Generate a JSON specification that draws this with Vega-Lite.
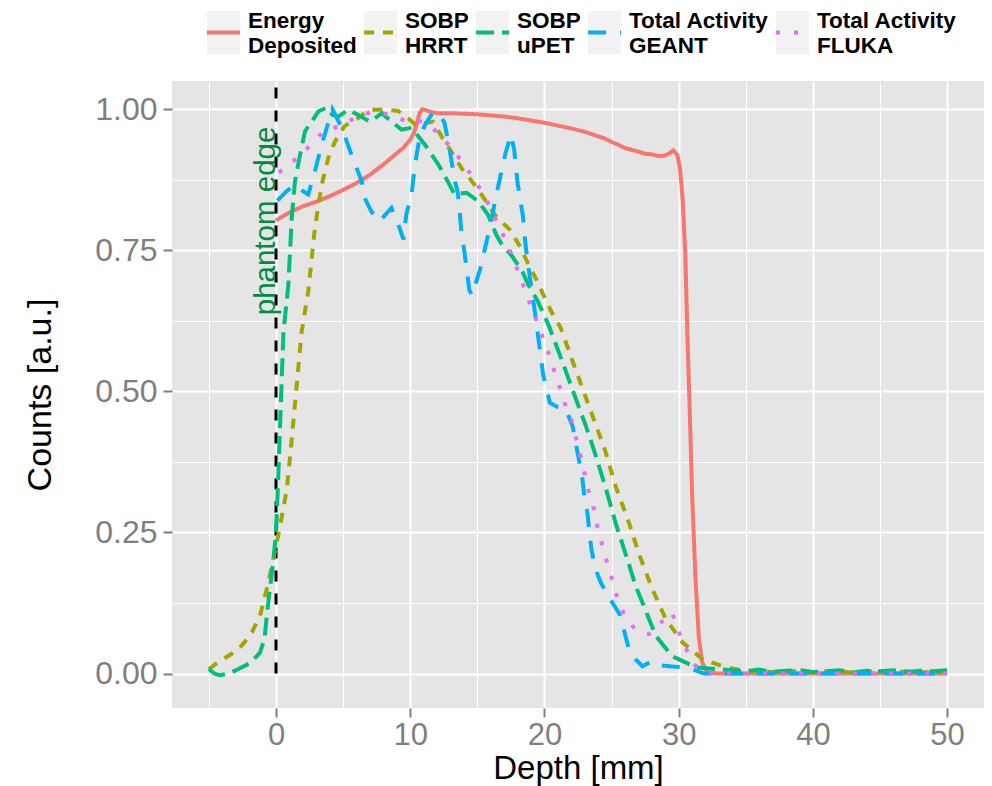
{
  "$schema": "https://vega.github.io/schema/vega-lite/v6.json",
  "width": 812,
  "height": 627,
  "autosize": {"type": "none"},
  "padding": {"left": 172, "top": 81, "right": 8, "bottom": 78},
  "background": "white",
  "view": {"fill": "#E5E5E5", "stroke": null},
  "config": {
    "view": {"fill": "#E5E5E5", "stroke": null},
    "font": "Liberation Sans",
    "axis": {"domain": false, "grid": true, "gridColor": "white", "labelFont": "Liberation Sans", "titleFont": "Liberation Sans", "labelOverlap": false, "labelFlush": false}
  },
  "datasets": {
    "curves": [
      {"s": "Energy Deposited", "x": 0, "y": 0.803}, {"s": "Energy Deposited", "x": 1, "y": 0.817}, {"s": "Energy Deposited", "x": 2, "y": 0.828}, {"s": "Energy Deposited", "x": 3, "y": 0.836}, {"s": "Energy Deposited", "x": 4, "y": 0.846}, {"s": "Energy Deposited", "x": 5, "y": 0.857}, {"s": "Energy Deposited", "x": 6, "y": 0.869}, {"s": "Energy Deposited", "x": 7, "y": 0.884}, {"s": "Energy Deposited", "x": 8, "y": 0.902}, {"s": "Energy Deposited", "x": 9, "y": 0.922}, {"s": "Energy Deposited", "x": 9.5, "y": 0.932}, {"s": "Energy Deposited", "x": 10, "y": 0.946}, {"s": "Energy Deposited", "x": 10.3, "y": 0.96}, {"s": "Energy Deposited", "x": 10.5, "y": 0.975}, {"s": "Energy Deposited", "x": 10.7, "y": 0.993}, {"s": "Energy Deposited", "x": 10.9, "y": 1.0}, {"s": "Energy Deposited", "x": 11.2, "y": 0.998}, {"s": "Energy Deposited", "x": 11.6, "y": 0.995}, {"s": "Energy Deposited", "x": 12, "y": 0.993}, {"s": "Energy Deposited", "x": 13, "y": 0.993}, {"s": "Energy Deposited", "x": 14, "y": 0.992}, {"s": "Energy Deposited", "x": 15, "y": 0.991}, {"s": "Energy Deposited", "x": 16, "y": 0.989}, {"s": "Energy Deposited", "x": 17, "y": 0.987}, {"s": "Energy Deposited", "x": 18, "y": 0.984}, {"s": "Energy Deposited", "x": 19, "y": 0.98}, {"s": "Energy Deposited", "x": 20, "y": 0.976}, {"s": "Energy Deposited", "x": 21, "y": 0.971}, {"s": "Energy Deposited", "x": 22, "y": 0.966}, {"s": "Energy Deposited", "x": 23, "y": 0.96}, {"s": "Energy Deposited", "x": 24, "y": 0.952}, {"s": "Energy Deposited", "x": 24.5, "y": 0.948}, {"s": "Energy Deposited", "x": 25, "y": 0.942}, {"s": "Energy Deposited", "x": 25.5, "y": 0.937}, {"s": "Energy Deposited", "x": 26, "y": 0.931}, {"s": "Energy Deposited", "x": 26.5, "y": 0.928}, {"s": "Energy Deposited", "x": 27, "y": 0.925}, {"s": "Energy Deposited", "x": 27.5, "y": 0.921}, {"s": "Energy Deposited", "x": 28, "y": 0.92}, {"s": "Energy Deposited", "x": 28.5, "y": 0.917}, {"s": "Energy Deposited", "x": 29, "y": 0.918}, {"s": "Energy Deposited", "x": 29.3, "y": 0.922}, {"s": "Energy Deposited", "x": 29.6, "y": 0.927}, {"s": "Energy Deposited", "x": 29.9, "y": 0.919}, {"s": "Energy Deposited", "x": 30.1, "y": 0.895}, {"s": "Energy Deposited", "x": 30.3, "y": 0.84}, {"s": "Energy Deposited", "x": 30.5, "y": 0.74}, {"s": "Energy Deposited", "x": 30.65, "y": 0.6}, {"s": "Energy Deposited", "x": 30.8, "y": 0.486}, {"s": "Energy Deposited", "x": 31.0, "y": 0.32}, {"s": "Energy Deposited", "x": 31.25, "y": 0.17}, {"s": "Energy Deposited", "x": 31.5, "y": 0.065}, {"s": "Energy Deposited", "x": 31.75, "y": 0.02}, {"s": "Energy Deposited", "x": 32.1, "y": 0.002}, {"s": "Energy Deposited", "x": 33, "y": 0}, {"s": "Energy Deposited", "x": 40, "y": 0}, {"s": "Energy Deposited", "x": 50, "y": 0},

      {"s": "SOBP HRRT", "x": -5, "y": 0.008}, {"s": "SOBP HRRT", "x": -4.2, "y": 0.022}, {"s": "SOBP HRRT", "x": -3.5, "y": 0.032}, {"s": "SOBP HRRT", "x": -2.8, "y": 0.043}, {"s": "SOBP HRRT", "x": -2.3, "y": 0.057}, {"s": "SOBP HRRT", "x": -1.8, "y": 0.073}, {"s": "SOBP HRRT", "x": -1.2, "y": 0.102}, {"s": "SOBP HRRT", "x": -0.6, "y": 0.158}, {"s": "SOBP HRRT", "x": -0.1, "y": 0.215}, {"s": "SOBP HRRT", "x": 0.3, "y": 0.261}, {"s": "SOBP HRRT", "x": 0.8, "y": 0.326}, {"s": "SOBP HRRT", "x": 1.05, "y": 0.385}, {"s": "SOBP HRRT", "x": 1.5, "y": 0.5}, {"s": "SOBP HRRT", "x": 1.9, "y": 0.604}, {"s": "SOBP HRRT", "x": 2.4, "y": 0.677}, {"s": "SOBP HRRT", "x": 2.9, "y": 0.79}, {"s": "SOBP HRRT", "x": 3.4, "y": 0.866}, {"s": "SOBP HRRT", "x": 3.9, "y": 0.914}, {"s": "SOBP HRRT", "x": 4.4, "y": 0.943}, {"s": "SOBP HRRT", "x": 5.1, "y": 0.97}, {"s": "SOBP HRRT", "x": 6.1, "y": 0.984}, {"s": "SOBP HRRT", "x": 6.9, "y": 0.999}, {"s": "SOBP HRRT", "x": 8.1, "y": 0.999}, {"s": "SOBP HRRT", "x": 9.1, "y": 0.997}, {"s": "SOBP HRRT", "x": 9.85, "y": 0.984}, {"s": "SOBP HRRT", "x": 10.4, "y": 0.972}, {"s": "SOBP HRRT", "x": 11.7, "y": 0.978}, {"s": "SOBP HRRT", "x": 12.4, "y": 0.949}, {"s": "SOBP HRRT", "x": 13.9, "y": 0.893}, {"s": "SOBP HRRT", "x": 14.9, "y": 0.863}, {"s": "SOBP HRRT", "x": 16.4, "y": 0.81}, {"s": "SOBP HRRT", "x": 17.4, "y": 0.787}, {"s": "SOBP HRRT", "x": 18.1, "y": 0.76}, {"s": "SOBP HRRT", "x": 18.75, "y": 0.728}, {"s": "SOBP HRRT", "x": 19.4, "y": 0.698}, {"s": "SOBP HRRT", "x": 19.9, "y": 0.672}, {"s": "SOBP HRRT", "x": 20.5, "y": 0.642}, {"s": "SOBP HRRT", "x": 21.2, "y": 0.613}, {"s": "SOBP HRRT", "x": 22.3, "y": 0.54}, {"s": "SOBP HRRT", "x": 23.5, "y": 0.462}, {"s": "SOBP HRRT", "x": 24.5, "y": 0.397}, {"s": "SOBP HRRT", "x": 25.3, "y": 0.332}, {"s": "SOBP HRRT", "x": 26.3, "y": 0.267}, {"s": "SOBP HRRT", "x": 27.1, "y": 0.208}, {"s": "SOBP HRRT", "x": 28.05, "y": 0.149}, {"s": "SOBP HRRT", "x": 29.05, "y": 0.096}, {"s": "SOBP HRRT", "x": 30.3, "y": 0.055}, {"s": "SOBP HRRT", "x": 31.8, "y": 0.025}, {"s": "SOBP HRRT", "x": 33.5, "y": 0.011}, {"s": "SOBP HRRT", "x": 35, "y": 0.005}, {"s": "SOBP HRRT", "x": 36, "y": 0.004}, {"s": "SOBP HRRT", "x": 37, "y": 0.003}, {"s": "SOBP HRRT", "x": 38, "y": 0.005}, {"s": "SOBP HRRT", "x": 39, "y": 0.003}, {"s": "SOBP HRRT", "x": 40, "y": 0.002}, {"s": "SOBP HRRT", "x": 41, "y": 0.004}, {"s": "SOBP HRRT", "x": 42, "y": 0.003}, {"s": "SOBP HRRT", "x": 43, "y": 0.002}, {"s": "SOBP HRRT", "x": 44, "y": 0.004}, {"s": "SOBP HRRT", "x": 45, "y": 0.003}, {"s": "SOBP HRRT", "x": 46, "y": 0.002}, {"s": "SOBP HRRT", "x": 47, "y": 0.004}, {"s": "SOBP HRRT", "x": 48, "y": 0.003}, {"s": "SOBP HRRT", "x": 49, "y": 0.002}, {"s": "SOBP HRRT", "x": 50, "y": 0.003},

      {"s": "SOBP uPET", "x": -5, "y": 0.008}, {"s": "SOBP uPET", "x": -4.6, "y": 0.0}, {"s": "SOBP uPET", "x": -4.2, "y": -0.003}, {"s": "SOBP uPET", "x": -3.5, "y": 0.0}, {"s": "SOBP uPET", "x": -2.8, "y": 0.008}, {"s": "SOBP uPET", "x": -1.9, "y": 0.019}, {"s": "SOBP uPET", "x": -1.2, "y": 0.037}, {"s": "SOBP uPET", "x": -0.86, "y": 0.061}, {"s": "SOBP uPET", "x": -0.69, "y": 0.102}, {"s": "SOBP uPET", "x": -0.49, "y": 0.143}, {"s": "SOBP uPET", "x": -0.19, "y": 0.202}, {"s": "SOBP uPET", "x": 0.0, "y": 0.25}, {"s": "SOBP uPET", "x": 0.13, "y": 0.326}, {"s": "SOBP uPET", "x": 0.22, "y": 0.385}, {"s": "SOBP uPET", "x": 0.55, "y": 0.604}, {"s": "SOBP uPET", "x": 0.92, "y": 0.689}, {"s": "SOBP uPET", "x": 1.17, "y": 0.807}, {"s": "SOBP uPET", "x": 1.41, "y": 0.872}, {"s": "SOBP uPET", "x": 1.79, "y": 0.919}, {"s": "SOBP uPET", "x": 2.16, "y": 0.961}, {"s": "SOBP uPET", "x": 2.66, "y": 0.978}, {"s": "SOBP uPET", "x": 3.15, "y": 0.996}, {"s": "SOBP uPET", "x": 3.8, "y": 1.003}, {"s": "SOBP uPET", "x": 4.2, "y": 0.99}, {"s": "SOBP uPET", "x": 4.64, "y": 0.987}, {"s": "SOBP uPET", "x": 5.4, "y": 0.999}, {"s": "SOBP uPET", "x": 6.1, "y": 0.99}, {"s": "SOBP uPET", "x": 7.0, "y": 0.978}, {"s": "SOBP uPET", "x": 7.9, "y": 0.993}, {"s": "SOBP uPET", "x": 8.6, "y": 0.978}, {"s": "SOBP uPET", "x": 9.35, "y": 0.964}, {"s": "SOBP uPET", "x": 10.1, "y": 0.967}, {"s": "SOBP uPET", "x": 11.1, "y": 0.937}, {"s": "SOBP uPET", "x": 12.1, "y": 0.902}, {"s": "SOBP uPET", "x": 12.8, "y": 0.872}, {"s": "SOBP uPET", "x": 13.3, "y": 0.849}, {"s": "SOBP uPET", "x": 14.2, "y": 0.852}, {"s": "SOBP uPET", "x": 15.06, "y": 0.837}, {"s": "SOBP uPET", "x": 15.8, "y": 0.813}, {"s": "SOBP uPET", "x": 16.4, "y": 0.778}, {"s": "SOBP uPET", "x": 16.9, "y": 0.757}, {"s": "SOBP uPET", "x": 17.3, "y": 0.748}, {"s": "SOBP uPET", "x": 17.6, "y": 0.739}, {"s": "SOBP uPET", "x": 18.0, "y": 0.725}, {"s": "SOBP uPET", "x": 18.4, "y": 0.71}, {"s": "SOBP uPET", "x": 18.8, "y": 0.689}, {"s": "SOBP uPET", "x": 19.5, "y": 0.66}, {"s": "SOBP uPET", "x": 20.3, "y": 0.618}, {"s": "SOBP uPET", "x": 21.3, "y": 0.555}, {"s": "SOBP uPET", "x": 22.35, "y": 0.486}, {"s": "SOBP uPET", "x": 23.1, "y": 0.438}, {"s": "SOBP uPET", "x": 23.84, "y": 0.385}, {"s": "SOBP uPET", "x": 24.6, "y": 0.326}, {"s": "SOBP uPET", "x": 25.3, "y": 0.267}, {"s": "SOBP uPET", "x": 26.1, "y": 0.208}, {"s": "SOBP uPET", "x": 26.8, "y": 0.155}, {"s": "SOBP uPET", "x": 27.6, "y": 0.108}, {"s": "SOBP uPET", "x": 28.3, "y": 0.067}, {"s": "SOBP uPET", "x": 29.5, "y": 0.031}, {"s": "SOBP uPET", "x": 31.3, "y": 0.011}, {"s": "SOBP uPET", "x": 32.8, "y": 0.008}, {"s": "SOBP uPET", "x": 34, "y": 0.006}, {"s": "SOBP uPET", "x": 35, "y": 0.004}, {"s": "SOBP uPET", "x": 36, "y": 0.007}, {"s": "SOBP uPET", "x": 37, "y": 0.003}, {"s": "SOBP uPET", "x": 38, "y": 0.005}, {"s": "SOBP uPET", "x": 39, "y": 0.006}, {"s": "SOBP uPET", "x": 40, "y": 0.003}, {"s": "SOBP uPET", "x": 41, "y": 0.004}, {"s": "SOBP uPET", "x": 42, "y": 0.006}, {"s": "SOBP uPET", "x": 43, "y": 0.002}, {"s": "SOBP uPET", "x": 44, "y": 0.005}, {"s": "SOBP uPET", "x": 45, "y": 0.004}, {"s": "SOBP uPET", "x": 46, "y": 0.006}, {"s": "SOBP uPET", "x": 47, "y": 0.003}, {"s": "SOBP uPET", "x": 48, "y": 0.005}, {"s": "SOBP uPET", "x": 49, "y": 0.004}, {"s": "SOBP uPET", "x": 50, "y": 0.006},

      {"s": "Total Activity GEANT", "x": 0.1, "y": 0.838}, {"s": "Total Activity GEANT", "x": 0.8, "y": 0.855}, {"s": "Total Activity GEANT", "x": 1.4, "y": 0.866}, {"s": "Total Activity GEANT", "x": 2.0, "y": 0.855}, {"s": "Total Activity GEANT", "x": 2.4, "y": 0.849}, {"s": "Total Activity GEANT", "x": 2.9, "y": 0.89}, {"s": "Total Activity GEANT", "x": 3.4, "y": 0.937}, {"s": "Total Activity GEANT", "x": 4.2, "y": 1.0}, {"s": "Total Activity GEANT", "x": 4.9, "y": 0.967}, {"s": "Total Activity GEANT", "x": 5.8, "y": 0.908}, {"s": "Total Activity GEANT", "x": 6.4, "y": 0.872}, {"s": "Total Activity GEANT", "x": 6.6, "y": 0.843}, {"s": "Total Activity GEANT", "x": 7.1, "y": 0.819}, {"s": "Total Activity GEANT", "x": 7.7, "y": 0.801}, {"s": "Total Activity GEANT", "x": 8.6, "y": 0.825}, {"s": "Total Activity GEANT", "x": 9.2, "y": 0.79}, {"s": "Total Activity GEANT", "x": 9.5, "y": 0.769}, {"s": "Total Activity GEANT", "x": 9.7, "y": 0.813}, {"s": "Total Activity GEANT", "x": 10.1, "y": 0.849}, {"s": "Total Activity GEANT", "x": 10.35, "y": 0.902}, {"s": "Total Activity GEANT", "x": 10.7, "y": 0.949}, {"s": "Total Activity GEANT", "x": 11.1, "y": 0.972}, {"s": "Total Activity GEANT", "x": 11.7, "y": 0.995}, {"s": "Total Activity GEANT", "x": 12.2, "y": 0.99}, {"s": "Total Activity GEANT", "x": 12.55, "y": 0.976}, {"s": "Total Activity GEANT", "x": 12.9, "y": 0.934}, {"s": "Total Activity GEANT", "x": 13.3, "y": 0.875}, {"s": "Total Activity GEANT", "x": 13.55, "y": 0.852}, {"s": "Total Activity GEANT", "x": 13.8, "y": 0.787}, {"s": "Total Activity GEANT", "x": 14.05, "y": 0.745}, {"s": "Total Activity GEANT", "x": 14.4, "y": 0.68}, {"s": "Total Activity GEANT", "x": 14.6, "y": 0.67}, {"s": "Total Activity GEANT", "x": 15.2, "y": 0.716}, {"s": "Total Activity GEANT", "x": 15.9, "y": 0.787}, {"s": "Total Activity GEANT", "x": 16.5, "y": 0.858}, {"s": "Total Activity GEANT", "x": 17.1, "y": 0.922}, {"s": "Total Activity GEANT", "x": 17.5, "y": 0.955}, {"s": "Total Activity GEANT", "x": 17.75, "y": 0.928}, {"s": "Total Activity GEANT", "x": 18.0, "y": 0.869}, {"s": "Total Activity GEANT", "x": 18.4, "y": 0.81}, {"s": "Total Activity GEANT", "x": 18.6, "y": 0.757}, {"s": "Total Activity GEANT", "x": 18.9, "y": 0.704}, {"s": "Total Activity GEANT", "x": 19.1, "y": 0.674}, {"s": "Total Activity GEANT", "x": 19.4, "y": 0.621}, {"s": "Total Activity GEANT", "x": 19.9, "y": 0.53}, {"s": "Total Activity GEANT", "x": 20.4, "y": 0.48}, {"s": "Total Activity GEANT", "x": 21.0, "y": 0.472}, {"s": "Total Activity GEANT", "x": 21.6, "y": 0.468}, {"s": "Total Activity GEANT", "x": 22.1, "y": 0.438}, {"s": "Total Activity GEANT", "x": 22.8, "y": 0.35}, {"s": "Total Activity GEANT", "x": 23.0, "y": 0.309}, {"s": "Total Activity GEANT", "x": 23.2, "y": 0.285}, {"s": "Total Activity GEANT", "x": 23.35, "y": 0.25}, {"s": "Total Activity GEANT", "x": 23.5, "y": 0.22}, {"s": "Total Activity GEANT", "x": 23.8, "y": 0.185}, {"s": "Total Activity GEANT", "x": 24.2, "y": 0.161}, {"s": "Total Activity GEANT", "x": 24.9, "y": 0.132}, {"s": "Total Activity GEANT", "x": 25.6, "y": 0.105}, {"s": "Total Activity GEANT", "x": 26.0, "y": 0.07}, {"s": "Total Activity GEANT", "x": 26.3, "y": 0.043}, {"s": "Total Activity GEANT", "x": 26.8, "y": 0.025}, {"s": "Total Activity GEANT", "x": 27.3, "y": 0.013}, {"s": "Total Activity GEANT", "x": 28.0, "y": 0.022}, {"s": "Total Activity GEANT", "x": 28.5, "y": 0.015}, {"s": "Total Activity GEANT", "x": 29.3, "y": 0.013}, {"s": "Total Activity GEANT", "x": 30.3, "y": 0.011}, {"s": "Total Activity GEANT", "x": 31.2, "y": 0.006}, {"s": "Total Activity GEANT", "x": 31.9, "y": 0.0}, {"s": "Total Activity GEANT", "x": 40, "y": 0.0}, {"s": "Total Activity GEANT", "x": 50, "y": 0.0},

      {"s": "Total Activity FLUKA", "x": 0.2, "y": 0.888}, {"s": "Total Activity FLUKA", "x": 0.67, "y": 0.895}, {"s": "Total Activity FLUKA", "x": 1.66, "y": 0.916}, {"s": "Total Activity FLUKA", "x": 2.66, "y": 0.938}, {"s": "Total Activity FLUKA", "x": 3.65, "y": 0.964}, {"s": "Total Activity FLUKA", "x": 4.9, "y": 0.97}, {"s": "Total Activity FLUKA", "x": 6.0, "y": 0.987}, {"s": "Total Activity FLUKA", "x": 7.25, "y": 0.996}, {"s": "Total Activity FLUKA", "x": 8.5, "y": 0.99}, {"s": "Total Activity FLUKA", "x": 9.8, "y": 0.978}, {"s": "Total Activity FLUKA", "x": 10.5, "y": 0.98}, {"s": "Total Activity FLUKA", "x": 11.2, "y": 0.976}, {"s": "Total Activity FLUKA", "x": 12.2, "y": 0.955}, {"s": "Total Activity FLUKA", "x": 13.1, "y": 0.93}, {"s": "Total Activity FLUKA", "x": 14.0, "y": 0.903}, {"s": "Total Activity FLUKA", "x": 14.75, "y": 0.876}, {"s": "Total Activity FLUKA", "x": 15.5, "y": 0.848}, {"s": "Total Activity FLUKA", "x": 16.1, "y": 0.818}, {"s": "Total Activity FLUKA", "x": 16.7, "y": 0.789}, {"s": "Total Activity FLUKA", "x": 17.3, "y": 0.757}, {"s": "Total Activity FLUKA", "x": 17.8, "y": 0.728}, {"s": "Total Activity FLUKA", "x": 18.3, "y": 0.696}, {"s": "Total Activity FLUKA", "x": 18.75, "y": 0.666}, {"s": "Total Activity FLUKA", "x": 19.25, "y": 0.635}, {"s": "Total Activity FLUKA", "x": 19.75, "y": 0.604}, {"s": "Total Activity FLUKA", "x": 20.3, "y": 0.568}, {"s": "Total Activity FLUKA", "x": 20.9, "y": 0.525}, {"s": "Total Activity FLUKA", "x": 21.5, "y": 0.48}, {"s": "Total Activity FLUKA", "x": 22.0, "y": 0.45}, {"s": "Total Activity FLUKA", "x": 22.35, "y": 0.418}, {"s": "Total Activity FLUKA", "x": 22.7, "y": 0.385}, {"s": "Total Activity FLUKA", "x": 23.3, "y": 0.323}, {"s": "Total Activity FLUKA", "x": 23.7, "y": 0.291}, {"s": "Total Activity FLUKA", "x": 23.96, "y": 0.258}, {"s": "Total Activity FLUKA", "x": 24.33, "y": 0.226}, {"s": "Total Activity FLUKA", "x": 24.7, "y": 0.194}, {"s": "Total Activity FLUKA", "x": 25.1, "y": 0.162}, {"s": "Total Activity FLUKA", "x": 25.45, "y": 0.132}, {"s": "Total Activity FLUKA", "x": 26.0, "y": 0.102}, {"s": "Total Activity FLUKA", "x": 26.8, "y": 0.077}, {"s": "Total Activity FLUKA", "x": 27.8, "y": 0.07}, {"s": "Total Activity FLUKA", "x": 28.8, "y": 0.093}, {"s": "Total Activity FLUKA", "x": 29.5, "y": 0.108}, {"s": "Total Activity FLUKA", "x": 30.0, "y": 0.075}, {"s": "Total Activity FLUKA", "x": 30.5, "y": 0.046}, {"s": "Total Activity FLUKA", "x": 31.15, "y": 0.016}, {"s": "Total Activity FLUKA", "x": 32.1, "y": 0.0}, {"s": "Total Activity FLUKA", "x": 40, "y": 0.0}, {"s": "Total Activity FLUKA", "x": 50, "y": 0.0}
    ],
    "edge": [{"x": 0, "y": 0, "y2": 1.045, "label": "phantom edge", "tx": -0.75, "ty": 0.802}],
    "keys": [{"k": "bg1"}, {"k": "bg2"}, {"k": "bg3"}, {"k": "bg4"}, {"k": "bg5"}]
  },
  "layer": [
    {
      "data": {"name": "edge"},
      "mark": {"type": "rule", "color": "black", "strokeWidth": 3, "strokeDash": [11, 12]},
      "encoding": {
        "x": {"field": "x", "type": "quantitative"},
        "y": {"field": "y", "type": "quantitative"},
        "y2": {"field": "y2"}
      }
    },
    {
      "data": {"name": "curves"},
      "mark": {"type": "line", "strokeWidth": 4, "clip": true},
      "encoding": {
        "x": {
          "field": "x", "type": "quantitative",
          "scale": {"domain": [-7.75, 52.75], "nice": false, "zero": false},
          "axis": {
            "title": "Depth [mm]",
            "values": [-5, 0, 5, 10, 15, 20, 25, 30, 35, 40, 45, 50],
            "labelExpr": "datum.value % 10 === 0 ? datum.label : ''",
            "gridWidth": {"condition": {"test": "datum.value % 10 === 0", "value": 2}, "value": 1},
            "tickOpacity": {"condition": {"test": "datum.value % 10 === 0", "value": 1}, "value": 0},
            "tickColor": "#7F7F7F", "tickSize": 9, "tickWidth": 2,
            "labelColor": "#7F7F7F", "labelFontSize": 31, "labelPadding": 3,
            "titleFontSize": 33, "titleColor": "black", "titleFontWeight": "normal", "titlePadding": 2
          }
        },
        "y": {
          "field": "y", "type": "quantitative",
          "scale": {"domain": [-0.061, 1.05], "nice": false, "zero": false},
          "axis": {
            "title": "Counts [a.u.]",
            "values": [0, 0.125, 0.25, 0.375, 0.5, 0.625, 0.75, 0.875, 1],
            "format": ".2f",
            "labelExpr": "abs(datum.value*4 - round(datum.value*4)) < 0.01 ? datum.label : ''",
            "gridWidth": {"condition": {"test": "abs(datum.value*4 - round(datum.value*4)) < 0.01", "value": 2}, "value": 1},
            "tickOpacity": {"condition": {"test": "abs(datum.value*4 - round(datum.value*4)) < 0.01", "value": 1}, "value": 0},
            "tickColor": "#7F7F7F", "tickSize": 9, "tickWidth": 2,
            "labelColor": "#7F7F7F", "labelFontSize": 32, "labelPadding": 6,
            "titleFontSize": 34, "titleColor": "black", "titleFontWeight": "normal", "titlePadding": 37
          }
        },
        "color": {
          "field": "s", "type": "nominal",
          "scale": {"domain": ["Energy Deposited", "SOBP HRRT", "SOBP uPET", "Total Activity GEANT", "Total Activity FLUKA"], "range": ["#F8766D", "#A3A500", "#00BF7D", "#00B0F6", "#E76BF3"]},
          "legend": {
            "orient": "none", "legendX": 28, "legendY": -72, "direction": "horizontal", "columns": 5, "title": null,
            "symbolType": "M-0.767,-1M0.767,1M-0.767,0H0.767", "symbolSize": 1849, "symbolStrokeWidth": 4,
            "labelFont": "Liberation Sans", "labelFontSize": 22.5, "labelFontWeight": "bold", "labelColor": "black",
            "labelOffset": 1, "columnPadding": -6.5, "labelLimit": 0, "padding": 0, "zindex": 2,
            "encode": {"labels": {"update": {"dy": {"value": -11.5}}}},
            "labelExpr": "datum.label=='Energy Deposited'||datum.label=='bg1' ? ['Energy','Deposited'] : datum.label=='SOBP HRRT'||datum.label=='bg2' ? ['SOBP','HRRT'] : datum.label=='SOBP uPET'||datum.label=='bg3' ? ['SOBP','uPET'] : datum.label=='Total Activity GEANT'||datum.label=='bg4' ? ['Total Activity','GEANT'] : ['Total Activity','FLUKA']"
          }
        },
        "strokeDash": {
          "field": "s", "type": "nominal",
          "scale": {"domain": ["Energy Deposited", "SOBP HRRT", "SOBP uPET", "Total Activity GEANT", "Total Activity FLUKA"], "range": [[1, 0], [10, 9], [18, 8], [18, 14], [4, 14]]},
          "legend": {
            "orient": "none", "legendX": 28, "legendY": -72, "direction": "horizontal", "columns": 5, "title": null,
            "symbolType": "M-0.767,-1M0.767,1M-0.767,0H0.767", "symbolSize": 1849, "symbolStrokeWidth": 4,
            "labelFont": "Liberation Sans", "labelFontSize": 22.5, "labelFontWeight": "bold", "labelColor": "black",
            "labelOffset": 1, "columnPadding": -6.5, "labelLimit": 0, "padding": 0, "zindex": 2,
            "encode": {"labels": {"update": {"dy": {"value": -11.5}}}},
            "labelExpr": "datum.label=='Energy Deposited'||datum.label=='bg1' ? ['Energy','Deposited'] : datum.label=='SOBP HRRT'||datum.label=='bg2' ? ['SOBP','HRRT'] : datum.label=='SOBP uPET'||datum.label=='bg3' ? ['SOBP','uPET'] : datum.label=='Total Activity GEANT'||datum.label=='bg4' ? ['Total Activity','GEANT'] : ['Total Activity','FLUKA']"
          }
        }
      }
    },
    {
      "data": {"name": "keys"},
      "transform": [{"filter": "datum.k == 'none'"}],
      "mark": {"type": "point", "filled": true, "opacity": 1},
      "encoding": {
        "fill": {
          "field": "k", "type": "nominal",
          "scale": {"domain": ["bg1", "bg2", "bg3", "bg4", "bg5"], "range": ["#F2F2F2", "#F2F2F2", "#F2F2F2", "#F2F2F2", "#F2F2F2"]},
          "legend": {
            "orient": "none", "legendX": 28, "legendY": -72, "direction": "horizontal", "columns": 5, "title": null,
            "symbolType": "M-0.767,-1M0.767,1M-0.674,-0.907H0.674V0.907H-0.674Z", "symbolSize": 1849, "symbolStrokeWidth": 4,
            "symbolStrokeColor": "#F2F2F2", "symbolOpacity": 1,
            "labelFont": "Liberation Sans", "labelFontSize": 22.5, "labelFontWeight": "bold", "labelColor": "transparent",
            "labelOffset": 1, "columnPadding": -6.5, "labelLimit": 0, "padding": 0, "zindex": 0,
            "encode": {"labels": {"update": {"dy": {"value": -11.5}}}},
            "labelExpr": "datum.label=='Energy Deposited'||datum.label=='bg1' ? ['Energy','Deposited'] : datum.label=='SOBP HRRT'||datum.label=='bg2' ? ['SOBP','HRRT'] : datum.label=='SOBP uPET'||datum.label=='bg3' ? ['SOBP','uPET'] : datum.label=='Total Activity GEANT'||datum.label=='bg4' ? ['Total Activity','GEANT'] : ['Total Activity','FLUKA']"
          }
        }
      }
    },
    {
      "data": {"name": "edge"},
      "mark": {"type": "text", "angle": 270, "fontSize": 29.5, "color": "#008B45", "align": "center", "baseline": "middle", "font": "Liberation Sans"},
      "encoding": {
        "x": {"field": "tx", "type": "quantitative"},
        "y": {"field": "ty", "type": "quantitative"},
        "text": {"field": "label"}
      }
    }
  ]
}
